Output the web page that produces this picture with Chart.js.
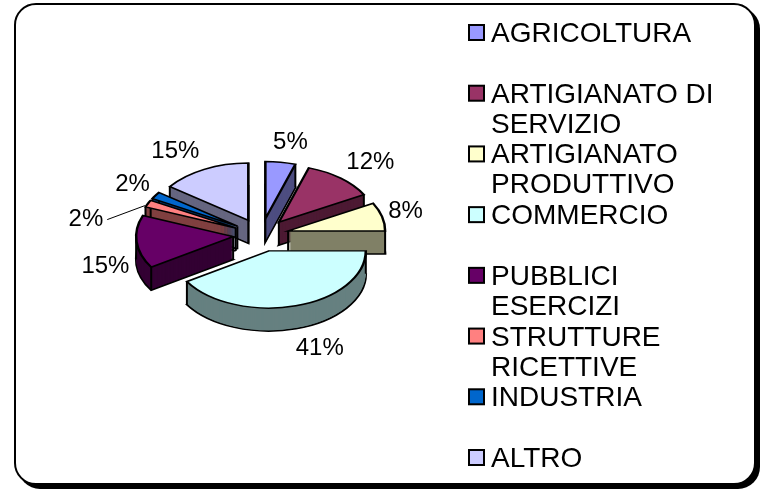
<!DOCTYPE html>
<html>
<head>
<meta charset="utf-8">
<script src="https://cdn.jsdelivr.net/npm/chart.js@4.4.1/dist/chart.umd.min.js"></script>
<style>
  html, body { margin: 0; padding: 0; background: #ffffff; }
  #wrap { position: relative; width: 765px; height: 490px; overflow: hidden; }
  #frame { position: absolute; left: 14px; top: 3px; width: 738px; height: 478px;
           border: 2px solid #000; border-radius: 22px; box-shadow: 4px 4px 0 #000; background: #fff; }
  #c { position: absolute; left: 0; top: 0; }
</style>
</head>
<body>
<div id="wrap">
  <div id="frame"></div>
  <canvas id="c" width="765" height="490"></canvas>
</div>
<script>
// ---- data ----
const categories = ["AGRICOLTURA", "ARTIGIANATO DI SERVIZIO", "ARTIGIANATO PRODUTTIVO", "COMMERCIO",
                    "PUBBLICI ESERCIZI", "STRUTTURE RICETTIVE", "INDUSTRIA", "ALTRO"];
const values = [5, 12, 8, 41, 15, 2, 2, 15];
const topColors = ["#9999FF", "#993366", "#FFFFCC", "#CCFFFF", "#660066", "#FF8080", "#0066CC", "#CCCCFF"];
const sideColors = ["#4D4D80", "#4D1A33", "#808066", "#668080", "#330033", "#804040", "#003366", "#666680"];

// ---- 3D look ----
const TILT = 0.59;
const DEPTH = 23;
const EXPLODE = 28;
const LABEL_FONT = '24px "Liberation Sans", Arial, sans-serif';
const LEGEND_FONT = '28px "Liberation Sans", Arial, sans-serif';

function midOf(arc) { return (arc.startAngle + arc.endAngle) / 2; }

function withTransform(ctx, arc, dy, fn) {
  const m = midOf(arc);
  ctx.save();
  ctx.translate(0, dy);
  ctx.translate(arc.x, arc.y);
  ctx.scale(1, TILT);
  ctx.translate(Math.cos(m) * EXPLODE, Math.sin(m) * EXPLODE);
  ctx.translate(-arc.x, -arc.y);
  fn();
  ctx.restore();
}
function drawWith(ctx, arc, opts) {
  const orig = arc.options;
  arc.options = Object.assign({}, orig, opts);
  arc.draw(ctx);
  arc.options = orig;
}

function drawSlice(ctx, arc, i) {
  const side = sideColors[i];
  withTransform(ctx, arc, DEPTH, () => drawWith(ctx, arc, {backgroundColor: side, borderColor: '#000', borderWidth: 2.5, borderJoinStyle: 'miter'}));
  for (let k = DEPTH - 1; k >= 1; k--) {
    withTransform(ctx, arc, k, () => drawWith(ctx, arc, {backgroundColor: side, borderWidth: 0}));
  }
  const m = midOf(arc);
  const ex = arc.x + Math.cos(m) * EXPLODE;
  const ey = arc.y + Math.sin(m) * EXPLODE * TILT;
  const R = arc.outerRadius;
  const pts = [[ex, ey]];
  const angs = [arc.startAngle, arc.endAngle];
  [0, Math.PI].forEach(a => { if (a > arc.startAngle && a < arc.endAngle) angs.push(a); });
  angs.forEach(a => pts.push([ex + Math.cos(a) * R, ey + Math.sin(a) * R * TILT]));
  ctx.save();
  ctx.strokeStyle = '#000';
  ctx.lineWidth = 2;
  ctx.beginPath();
  pts.forEach(p => { ctx.moveTo(p[0], p[1]); ctx.lineTo(p[0], p[1] + DEPTH); });
  ctx.stroke();
  ctx.restore();
  withTransform(ctx, arc, 0, () => drawWith(ctx, arc, {backgroundColor: topColors[i], borderColor: '#000', borderWidth: 2.5, borderJoinStyle: 'miter'}));
}

function wrapText(ctx, text, maxW) {
  const words = text.split(' ');
  const lines = [];
  let cur = '';
  words.forEach(w => {
    const t = cur ? cur + ' ' + w : w;
    if (ctx.measureText(t).width > maxW && cur) { lines.push(cur); cur = w; }
    else cur = t;
  });
  if (cur) lines.push(cur);
  return lines;
}

const pie3d = {
  id: 'pie3d',
  beforeDatasetsDraw(chart) {
    const ctx = chart.ctx;
    const arcs = chart.getDatasetMeta(0).data;
    const order = arcs.map((a, i) => i).sort((a, b) => Math.sin(midOf(arcs[a])) - Math.sin(midOf(arcs[b])));
    order.forEach(i => drawSlice(ctx, arcs[i], i));
    return false;
  },
  afterDraw(chart) {
    const ctx = chart.ctx;
    const arcs = chart.getDatasetMeta(0).data;
    const total = values.reduce((s, v) => s + v, 0);
    ctx.save();
    ctx.font = LABEL_FONT;
    ctx.fillStyle = '#000';
    ctx.textAlign = 'center';
    ctx.textBaseline = 'middle';
    const placed = [];
    for (let i = arcs.length - 1; i >= 0; i--) {
      const arc = arcs[i];
      const m = midOf(arc);
      const dx = Math.cos(m), dy = Math.sin(m);
      const R = arc.outerRadius;
      const txt = Math.round(values[i] / total * 100) + '%';
      const w = ctx.measureText(txt).width;
      const side = Math.sign(dx) * Math.min(1, Math.abs(dx) * 3);
      let x = arc.x + dx * (R + EXPLODE + 4) + side * w / 2 * 1.13;
      let y = arc.y + dy * ((R + EXPLODE) * TILT + 20) + (dy > 0 ? DEPTH : 0);
      const overlaps = placed.some(p => Math.abs(p.x - x) < (p.w + w) / 2 && Math.abs(p.y - y) < 18);
      if (overlaps) {
        const ax = arc.x + dx * (R + EXPLODE);
        const ay = arc.y + dy * (R + EXPLODE) * TILT;
        x = ax - 62; y = ay + 16;
        ctx.save();
        ctx.strokeStyle = '#000'; ctx.lineWidth = 1;
        ctx.beginPath();
        ctx.moveTo(x + w / 2 + 4, y);
        ctx.lineTo(ax - 3, ay + 2);
        ctx.stroke();
        ctx.restore();
      }
      placed.push({x, y, w});
      ctx.fillText(txt, x, y);
    }
    ctx.restore();

    // legend
    ctx.save();
    ctx.font = LEGEND_FONT;
    ctx.textAlign = 'left';
    ctx.textBaseline = 'alphabetic';
    const firstY = 32, lastY = 457;
    const step = (lastY - firstY) / (categories.length - 1);
    categories.forEach((c, i) => {
      const cy = firstY + i * step;
      ctx.fillStyle = topColors[i];
      ctx.fillRect(469, cy - 7, 15, 15);
      ctx.strokeStyle = '#000';
      ctx.lineWidth = 2;
      ctx.strokeRect(469, cy - 7, 15, 15);
      ctx.fillStyle = '#000';
      wrapText(ctx, c, 240).forEach((ln, j) => ctx.fillText(ln, 491, cy + 10 + j * 30));
    });
    ctx.restore();
  }
};

new Chart(document.getElementById('c'), {
  type: 'pie',
  data: {
    labels: categories,
    datasets: [{
      data: values,
      backgroundColor: topColors,
      borderColor: '#000',
      borderWidth: 2,
      offset: 0,
      radius: 97
    }]
  },
  options: {
    responsive: false,
    animation: false,
    events: [],
    layout: { padding: { left: 100, right: 343, top: 80, bottom: 100 } },
    plugins: { legend: { display: false }, tooltip: { enabled: false } }
  },
  plugins: [pie3d]
});
</script>
</body>
</html>
